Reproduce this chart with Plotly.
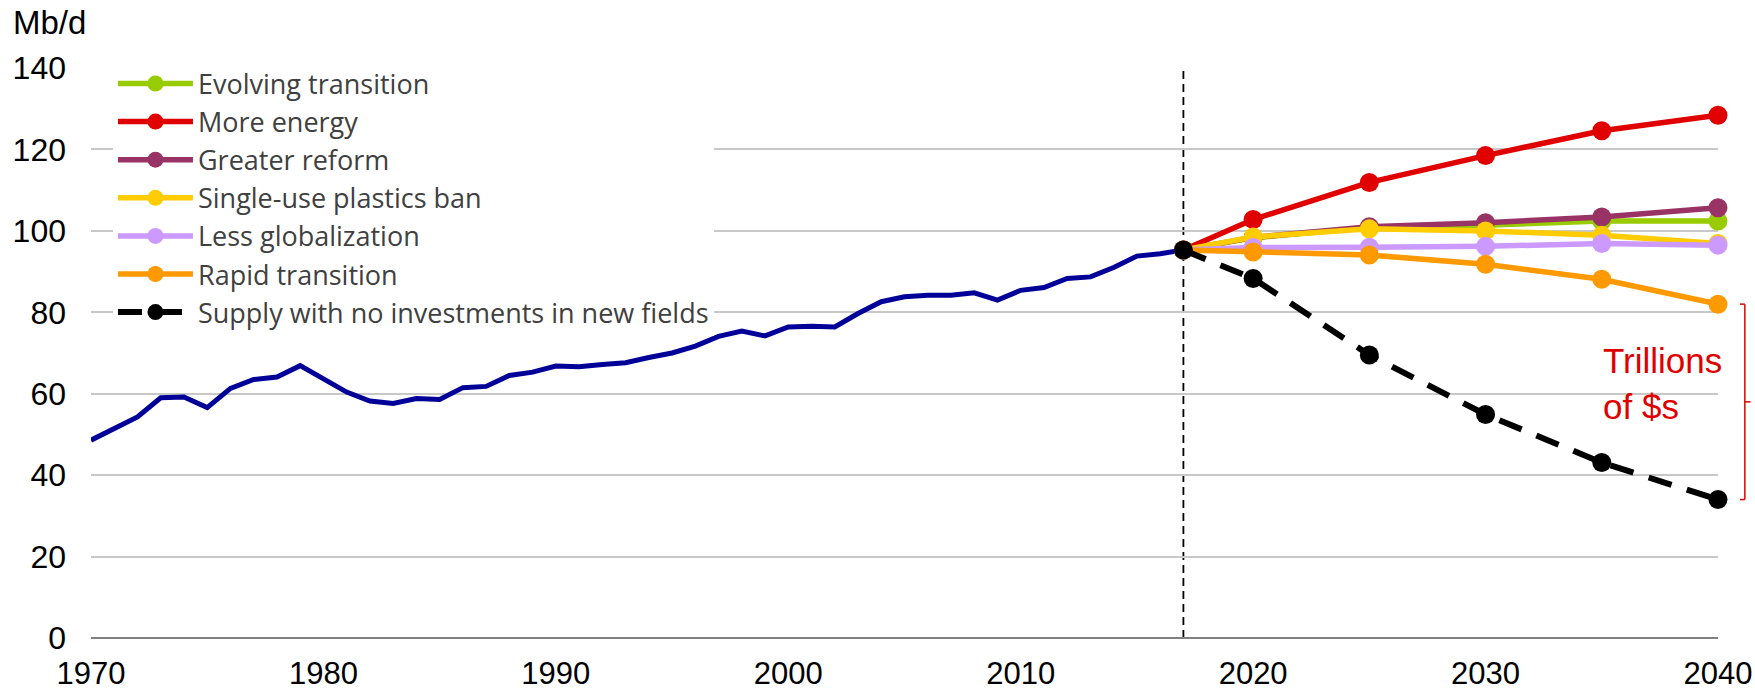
import plotly.graph_objects as go

# ---------------- data ----------------
hist_years = list(range(1970, 2018))
hist_values = [48.6, 51.4, 54.3, 59.0, 59.2, 56.6, 61.3, 63.5, 64.1, 66.9,
               63.7, 60.4, 58.2, 57.6, 58.8, 58.6, 61.5, 61.8, 64.5, 65.3,
               66.8, 66.6, 67.2, 67.6, 68.9, 70.0, 71.7, 74.1, 75.4, 74.2,
               76.4, 76.6, 76.4, 79.7, 82.6, 83.8, 84.2, 84.2, 84.8, 83.0,
               85.4, 86.1, 88.3, 88.7, 91.0, 93.8, 94.4, 95.3]

proj_years = [2017, 2020, 2025, 2030, 2035, 2040]
evolving_transition = [95.3, 98.3, 100.8, 101.4, 102.4, 102.4]
more_energy = [95.3, 102.8, 111.9, 118.5, 124.6, 128.4]
greater_reform = [95.3, 98.4, 101.0, 102.0, 103.4, 105.7]
plastics_ban = [95.3, 98.5, 100.5, 100.0, 98.9, 96.9]
less_globalization = [95.3, 95.9, 96.0, 96.2, 96.9, 96.5]
rapid_transition = [95.3, 94.8, 94.1, 91.8, 88.1, 82.0]
supply_no_invest = [95.3, 88.3, 69.5, 54.9, 43.1, 34.0]

scenario_names = ["Evolving transition", "More energy", "Greater reform",
                  "Single-use plastics ban", "Less globalization",
                  "Rapid transition"]
scenario_values = [evolving_transition, more_energy, greater_reform,
                   plastics_ban, less_globalization, rapid_transition]
scenario_colors = ["#99CC00", "#E00000", "#993366", "#FFCC00", "#CC99FF",
                   "#FF9900"]
supply_name = "Supply with no investments in new fields"

x_ticks = [1970, 1980, 1990, 2000, 2010, 2020, 2030, 2040]
y_ticks = [0, 20, 40, 60, 80, 100, 120, 140]
split_year = 2017
y_max = 140

FONT = "Liberation Sans, Arial, sans-serif"

# ---------------- figure ----------------
fig = go.Figure()

fig.add_trace(go.Scatter(
    x=hist_years, y=hist_values, mode="lines",
    line=dict(color="#000099", width=5), showlegend=False,
    cliponaxis=False, hoverinfo="skip"))

for name, vals, col in zip(scenario_names, scenario_values, scenario_colors):
    fig.add_trace(go.Scatter(
        x=proj_years, y=vals, mode="lines+markers", name=name,
        line=dict(color=col, width=5.5),
        marker=dict(color=col, size=19, symbol="circle"),
        cliponaxis=False))

fig.add_trace(go.Scatter(
    x=proj_years, y=supply_no_invest, mode="lines+markers", name=supply_name,
    line=dict(color="#000000", width=6, dash="24px,16px"),
    marker=dict(color="#000000", size=19, symbol="circle"),
    cliponaxis=False))

# vertical dashed line at the split year
fig.add_shape(type="line", xref="x", yref="paper", x0=split_year, x1=split_year,
              y0=0, y1=1, line=dict(color="#000000", width=1.8, dash="8px,5px"),
              layer="between")

# red bracket on the right between rapid transition and supply in 2040
top_p = rapid_transition[-1] / y_max
bot_p = supply_no_invest[-1] / y_max
bx = 1.0165
bcol = "#E00000"
fig.add_shape(type="line", xref="paper", yref="paper", x0=bx, x1=bx,
              y0=bot_p, y1=top_p, line=dict(color=bcol, width=1.5))
fig.add_shape(type="line", xref="paper", yref="paper", x0=bx - 0.003, x1=bx,
              y0=top_p, y1=top_p, line=dict(color=bcol, width=1.5))
fig.add_shape(type="line", xref="paper", yref="paper", x0=bx - 0.003, x1=bx,
              y0=bot_p, y1=bot_p, line=dict(color=bcol, width=1.5))
fig.add_shape(type="line", xref="paper", yref="paper", x0=bx, x1=bx + 0.0035,
              y0=(top_p + bot_p) / 2, y1=(top_p + bot_p) / 2,
              line=dict(color=bcol, width=1.5))

fig.add_annotation(text="Trillions<br>of $s", x=2034.95, y=62.5, xref="x", yref="y",
                   xanchor="left", yanchor="middle", align="left", showarrow=False,
                   font=dict(family=FONT, size=35, color=bcol))

fig.add_annotation(text="Mb/d", x=-0.049, y=1.08, xref="paper", yref="paper",
                   xanchor="left", yanchor="middle", showarrow=False,
                   font=dict(family=FONT, size=33, color="#000000"))

fig.update_layout(
    width=1755, height=694,
    margin=dict(l=91, r=37, t=68, b=56, autoexpand=False),
    paper_bgcolor="white", plot_bgcolor="white",
    font=dict(family=FONT, color="#000000"),
    showlegend=True,
    legend=dict(x=0.0135, y=1.015, xanchor="left", yanchor="top",
                bgcolor="white", borderwidth=0,
                font=dict(size=27, color="#404040",
                          family="Open Sans, Liberation Sans, sans-serif"),
                tracegroupgap=0, itemwidth=75),
    xaxis=dict(range=[1970, 2040.001], tickvals=x_ticks, showgrid=False,
               zeroline=False, showline=False, ticks="", automargin=False,
               tickfont=dict(size=31), ticklabelstandoff=14),
    yaxis=dict(range=[0, y_max + 0.01], tickvals=y_ticks, showgrid=True,
               gridcolor="#C8C8C8", gridwidth=1.5, zeroline=True,
               zerolinecolor="#808080", zerolinewidth=1.8, showline=False,
               ticks="", automargin=False,
               tickfont=dict(size=32), ticklabelstandoff=24),
)

fig.write_html(
    "out.html",
    config={"displayModeBar": False},
    post_script="document.body.style.margin='0';document.body.style.overflow='hidden';",
)
